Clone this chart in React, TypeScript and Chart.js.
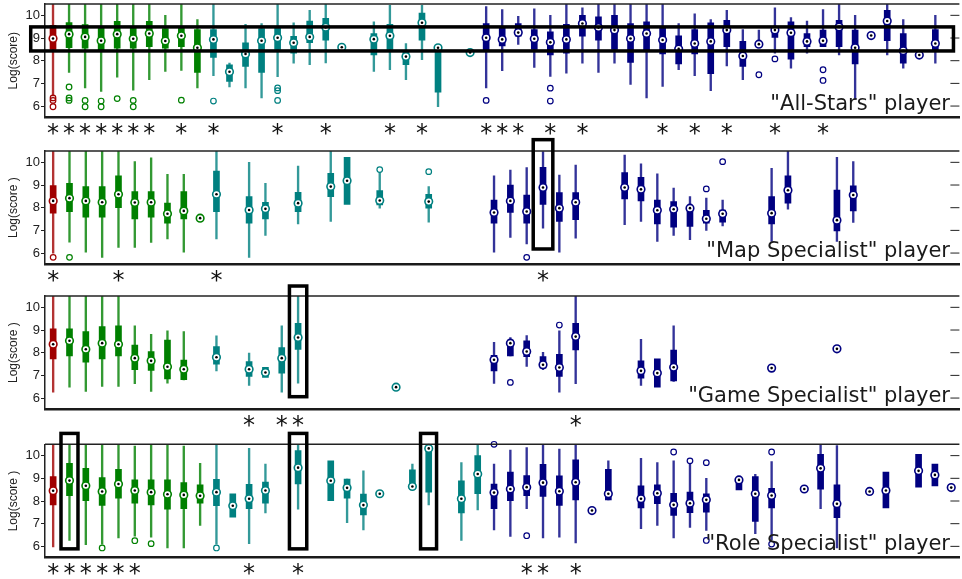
import React, { useEffect, useRef } from 'react';
import { Chart, registerables } from 'chart.js';

Chart.register(...registerables);

type Row = [number, number | null, number | null, number, number | null, number | null];
type Out = [number, number];
type Mark = [number, number, number, number];

// ---- shared ----
const yTickValues = [6, 7, 8, 9, 10];
const groupStarts = [0, 1, 10, 27];
const groupRGB = [
  [160, 0, 0],
  [0, 128, 0],
  [0, 128, 128],
  [0, 0, 128],
];

// ---- "All-Stars" panel: [slot, low whisker, q1, median, q3, high whisker] ----
const allStarsRows: Row[] = [
  [0, 6.45, 8.5, 8.98, 9.56, 10.7], [1, 7.48, 8.57, 9.17, 9.68, 10.7], [2, 6.8, 8.55, 9.05, 9.59, 10.7],
  [3, 6.65, 8.47, 8.88, 9.49, 10.7], [4, 7.27, 8.55, 9.17, 9.74, 10.7], [5, 6.7, 8.55, 8.97, 9.46, 10.7],
  [6, 7.16, 8.62, 9.2, 9.74, 10.7], [7, 7.53, 8.55, 8.87, 9.42, 10.0], [8, 7.57, 8.62, 9.1, 9.46, 10.7],
  [9, 6.8, 7.48, 8.57, 9.37, 9.81], [10, 7.34, 8.15, 8.94, 9.37, 10.7], [11, 6.84, 7.09, 7.51, 7.82, 7.9],
  [12, 6.8, 7.75, 8.3, 8.79, 9.6], [13, 6.36, 7.48, 8.88, 9.42, 9.64], [14, 7.3, 8.5, 9.01, 9.49, 10.7],
  [15, 7.89, 8.33, 8.79, 9.08, 9.67], [16, 7.82, 8.79, 9.05, 9.75, 10.22], [17, 7.9, 8.9, 9.47, 9.87, 10.7],
  [18, null, null, 8.59, null, null], [20, 7.53, 8.25, 8.95, 9.2, 9.71], [21, 7.6, 8.5, 9.1, 9.6, 10.44],
  [22, 7.16, 7.82, 8.18, 8.4, 8.76], [23, 8.04, 8.9, 9.67, 10.1, 10.44], [24, 5.97, 6.61, 8.57, 8.57, 8.65],
  [26, null, null, 8.36, null, null], [27, 6.8, 8.47, 9.01, 9.64, 10.39], [28, 7.56, 8.65, 8.94, 9.49, 10.25],
  [29, 8.72, 9.08, 9.24, 9.64, 9.96], [30, 7.7, 8.5, 8.97, 9.37, 10.29], [31, 7.31, 8.25, 8.81, 9.27, 10.0],
  [32, 7.45, 8.33, 8.94, 9.6, 10.48], [33, 7.89, 9.08, 9.64, 10.0, 10.33], [34, 7.48, 8.9, 9.46, 9.93, 10.7],
  [35, 7.89, 8.5, 9.35, 10.0, 10.7], [36, 6.95, 7.92, 8.98, 9.64, 10.7], [37, 6.36, 8.47, 9.2, 9.71, 10.7],
  [38, 6.87, 8.3, 8.91, 9.52, 10.7], [39, 7.6, 7.86, 8.52, 9.1, 9.64], [40, 7.34, 8.3, 8.76, 9.37, 10.07],
  [41, 6.68, 7.43, 8.85, 9.67, 9.81], [42, 7.77, 8.62, 9.35, 9.78, 10.22], [43, 7.16, 7.75, 8.21, 8.85, 9.37],
  [44, 8.62, 8.65, 8.73, 8.8, 9.35], [45, 8.33, 9.03, 9.35, 9.42, 10.33], [46, 7.67, 8.07, 9.23, 9.71, 9.9],
  [47, 8.33, 8.62, 8.85, 9.2, 9.75], [48, 8.62, 8.62, 8.88, 9.35, 10.25], [49, 8.25, 8.62, 9.49, 9.78, 10.7],
  [50, 6.29, 7.86, 8.57, 9.35, 10.0], [51, null, null, 9.11, null, null], [52, 8.25, 8.88, 9.75, 10.22, 10.7],
  [53, 7.67, 7.89, 8.44, 9.2, 9.81], [54, null, null, 8.25, null, null], [55, 7.89, 8.47, 8.76, 9.37, 10.0],
];
const allStarsOutliers: Out[] = [
  [0, 6.36], [0, 6.25], [0, 5.97], [1, 6.84], [1, 6.36], [1, 6.25], [2, 6.25], [2, 5.97], [3, 6.22], [3, 5.97],
  [4, 6.33], [5, 6.25], [5, 5.97], [8, 6.26], [10, 6.22], [14, 6.8], [14, 6.68], [14, 6.25], [27, 6.25],
  [31, 6.79], [31, 6.22], [44, 7.38], [45, 8.08], [48, 7.6], [48, 7.13],
];
const allStarsSignificant = [0, 1, 2, 3, 4, 5, 6, 8, 10, 14, 17, 21, 23, 27, 28, 29, 31, 33, 38, 40, 42, 45, 48];
const allStarsHighlights: Mark[] = [[-1.39, 56.13, 8.43, 9.49]];

// ---- "Map Specialist" panel ----
const mapRows: Row[] = [
  [0, 6.0, 7.76, 8.3, 8.97, 10.7], [1, 6.48, 7.83, 8.42, 9.08, 10.7], [2, 6.04, 7.58, 8.3, 8.93, 10.7],
  [3, 5.81, 7.58, 8.24, 8.93, 10.7], [4, 6.25, 8.0, 8.59, 9.41, 10.7], [5, 6.25, 7.51, 8.23, 8.71, 10.03],
  [6, 6.47, 7.58, 8.24, 8.71, 10.2], [7, 6.62, 7.32, 7.73, 8.2, 9.47], [8, 6.04, 7.51, 7.86, 8.71, 9.47],
  [9, null, null, 7.54, null, null], [10, 6.62, 7.83, 8.59, 9.62, 10.7], [12, 5.81, 7.32, 7.9, 8.49, 10.0],
  [13, 6.78, 7.51, 7.95, 8.24, 9.08], [15, 7.29, 7.83, 8.2, 8.68, 9.84], [17, 7.39, 8.49, 8.93, 9.52, 10.7],
  [18, null, 8.15, 9.19, 10.22, null], [20, 7.98, 8.12, 8.32, 8.75, 9.55], [23, 7.36, 7.98, 8.27, 8.59, 8.93],
  [27, 6.04, 7.32, 7.79, 8.34, 9.41], [28, 6.69, 7.79, 8.3, 9.0, 9.66], [29, 6.4, 7.32, 7.83, 8.56, 9.77],
  [30, 7.1, 8.15, 8.89, 9.78, 10.47], [31, 6.04, 7.39, 7.98, 8.67, 9.44], [32, 6.66, 7.47, 8.24, 8.67, 9.88],
  [35, 7.25, 8.39, 8.89, 9.55, 10.32], [36, 7.39, 8.3, 8.81, 9.34, 9.93], [37, 6.51, 7.29, 7.89, 8.34, 9.49],
  [38, 6.78, 7.14, 7.93, 8.27, 8.86], [39, 6.59, 7.17, 7.98, 8.05, 8.49], [40, 7.0, 7.32, 7.51, 7.88, 8.42],
  [41, 7.2, 7.36, 7.73, 7.9, 8.34], [44, 6.51, 7.29, 7.76, 8.49, 9.74], [45, 7.93, 8.2, 8.77, 9.41, 10.5],
  [48, 6.51, 6.98, 7.45, 8.78, 10.22], [49, 7.35, 7.86, 8.56, 8.96, 10.03],
];
const mapOutliers: Out[] = [[0, 5.81], [1, 5.81], [20, 9.68], [23, 9.59], [29, 5.81], [40, 8.83], [41, 10.03]];
const mapSignificant = [0, 4, 10, 30];
const mapHighlights: Mark[] = [[29.4, 30.6, 6.18, 11.0]];

// ---- "Game Specialist" panel ----
const gameRows: Row[] = [
  [0, 6.26, 7.73, 8.37, 9.05, 10.7], [1, 6.48, 7.86, 8.53, 9.05, 10.7], [2, 6.29, 7.58, 8.15, 8.93, 10.7],
  [3, 6.51, 7.73, 8.42, 9.15, 10.7], [4, 6.51, 7.86, 8.37, 9.18, 10.7], [5, 6.63, 7.25, 7.76, 8.34, 9.19],
  [6, 6.29, 7.22, 7.64, 8.05, 8.81], [7, 6.66, 6.84, 7.38, 8.56, 8.96], [8, 6.8, 6.81, 7.27, 7.68, 8.93],
  [10, 7.2, 7.49, 7.8, 8.27, 8.74], [12, 6.56, 6.95, 7.27, 7.61, 7.98], [13, null, 6.91, 7.13, 7.35, null],
  [14, 6.26, 7.1, 7.76, 8.23, 9.19], [15, 6.66, 8.15, 8.67, 9.3, 10.7], [21, null, null, 6.48, null, null],
  [27, 6.64, 7.2, 7.69, 7.88, 8.46], [28, null, 7.86, 8.42, 8.56, 8.67], [29, 7.39, 7.83, 8.05, 8.52, 8.75],
  [30, 7.25, 7.32, 7.47, 7.83, 8.02], [31, 6.26, 6.95, 7.35, 7.93, 8.96], [32, 6.63, 8.12, 8.71, 9.3, 10.7],
  [36, 6.56, 6.88, 7.2, 7.64, 8.59], [37, null, 6.48, 7.1, 7.73, null], [38, 6.73, 6.76, 7.36, 8.12, 9.19],
  [44, null, null, 7.32, null, null], [48, null, null, 8.17, null, null],
];
const gameOutliers: Out[] = [[28, 6.69], [31, 9.22]];
const gameSignificant = [12, 14, 15, 32];
const gameHighlights: Mark[] = [[14.47, 15.53, 6.06, 10.94]];

// ---- "Role Specialist" panel ----
const roleRows: Row[] = [
  [0, 5.97, 7.83, 8.45, 9.08, 10.7], [1, 6.26, 8.23, 8.9, 9.66, 10.7], [2, 6.07, 8.02, 8.67, 9.44, 10.7],
  [3, 6.1, 7.8, 8.42, 9.03, 10.7], [4, 6.37, 8.12, 8.75, 9.4, 10.7], [5, 6.45, 7.9, 8.46, 8.93, 10.42],
  [6, 6.4, 7.83, 8.39, 8.93, 10.7], [7, 5.93, 7.64, 8.3, 8.93, 10.7], [8, 5.93, 7.66, 8.27, 8.81, 10.42],
  [9, 6.92, 7.9, 8.23, 8.71, 9.66], [10, 6.1, 7.79, 8.39, 8.96, 10.7], [11, null, 7.29, 7.79, 8.32, null],
  [12, 6.12, 7.66, 8.1, 8.74, 10.32], [13, 7.47, 7.9, 8.46, 8.83, 9.63], [15, 7.64, 8.75, 9.47, 10.22, 10.7],
  [17, null, 8.02, 8.89, 9.77, null], [18, 7.05, 8.12, 8.58, 8.97, null], [19, 6.73, 7.39, 7.82, 8.3, 9.33],
  [20, null, null, 8.32, null, null], [22, null, 8.61, 8.64, 9.37, 9.63], [23, 7.83, 8.39, 10.32, 10.32, null],
  [25, 6.26, 7.47, 8.1, 8.89, 9.69], [26, 7.61, 8.32, 9.19, 10.0, 10.7], [27, 6.73, 7.66, 8.37, 8.75, 9.63],
  [28, 6.44, 8.02, 8.53, 9.27, 10.25], [29, 7.66, 8.24, 8.61, 9.12, 10.35], [30, 6.37, 8.2, 8.81, 9.62, 10.7],
  [31, 6.41, 7.8, 8.43, 9.11, 10.29], [32, 6.15, 8.05, 8.83, 9.81, 10.7], [33, null, null, 7.58, null, null],
  [34, null, 8.05, 8.32, 9.4, 9.77], [36, 6.78, 7.69, 8.1, 8.67, 9.88], [37, 6.92, 7.88, 8.34, 8.71, 9.69],
  [38, 6.37, 7.36, 7.83, 8.34, 9.77], [39, 6.84, 7.49, 7.9, 8.39, 9.66], [40, 6.7, 7.51, 8.05, 8.32, 9.0],
  [42, null, 8.49, 8.93, 8.93, null], [43, 6.56, 7.1, 8.32, 9.08, 9.18], [44, 6.3, 7.69, 8.24, 8.56, 9.74],
  [46, null, null, 8.53, null, null], [47, 7.66, 8.52, 9.44, 10.06, 10.7], [48, 5.93, 7.27, 7.88, 8.71, 10.44],
  [50, null, null, 8.42, null, null], [51, null, 7.69, 8.46, 9.27, null], [53, null, 8.61, 9.33, 10.06, null],
  [54, null, 8.67, 9.15, 9.63, null], [55, null, null, 8.59, null, null],
];
const roleOutliers: Out[] = [
  [3, 5.93], [5, 6.25], [6, 6.12], [10, 5.93], [27, 10.5], [29, 6.47], [38, 10.16], [39, 9.77],
  [40, 9.69], [40, 6.26], [44, 10.16], [44, 6.1],
];
const roleSignificant = [0, 1, 2, 3, 4, 5, 12, 15, 29, 30, 32];
const roleHighlights: Mark[] = [
  [0.48, 1.52, 5.89, 10.98],
  [14.47, 15.53, 5.89, 10.98],
  [22.5, 23.48, 5.89, 10.98],
];

const panelLabels = ['"All-Stars" player', '"Map Specialist" player', '"Game Specialist" player', '"Role Specialist" player'];
const yTitles = ['Log(score)', 'Log(score )', 'Log(score )', 'Log(score )'];

type PanelCfg = {
  top: number; padTop: number; nSlots: number; rows: Row[]; outliers: Out[];
  sig: number[]; marks: Mark[]; label: string; yTitle: string;
};

const CANVAS_W = 965;
const CANVAS_H = 154;
const AREA_H = 113.4;

const panels: PanelCfg[] = [
  { top: -10, padTop: 14, nSlots: 57, rows: allStarsRows, outliers: allStarsOutliers, sig: allStarsSignificant, marks: allStarsHighlights, label: panelLabels[0], yTitle: yTitles[0] },
  { top: 137, padTop: 14, nSlots: 56, rows: mapRows, outliers: mapOutliers, sig: mapSignificant, marks: mapHighlights, label: panelLabels[1], yTitle: yTitles[1] },
  { top: 282, padTop: 14, nSlots: 56, rows: gameRows, outliers: gameOutliers, sig: gameSignificant, marks: gameHighlights, label: panelLabels[2], yTitle: yTitles[2] },
  { top: 430, padTop: 14.3, nSlots: 56, rows: roleRows, outliers: roleOutliers, sig: roleSignificant, marks: roleHighlights, label: panelLabels[3], yTitle: yTitles[3] },
];

function slotColor(i: number, alpha = 1): string {
  let g = 0;
  groupStarts.forEach((s, k) => { if (i >= s) g = k; });
  const [r, gg, b] = groupRGB[g];
  return `rgba(${r},${gg},${b},${alpha})`;
}

const framePlugin = {
  id: 'frame',
  afterDraw(chart: any, _args: any, opts: any) {
    const { ctx, chartArea: a, scales } = chart;
    const x = scales.x;
    const y = scales.y;
    ctx.save();
    ctx.strokeStyle = '#222';
    ctx.lineWidth = 1.5;
    ctx.beginPath();
    ctx.moveTo(a.left, a.top);
    ctx.lineTo(a.right, a.top);
    ctx.stroke();
    ctx.lineWidth = 1;
    yTickValues.forEach((v) => {
      const py = y.getPixelForValue(v);
      ctx.beginPath();
      ctx.moveTo(a.right - 9, py);
      ctx.lineTo(a.right, py);
      ctx.stroke();
    });
    ctx.font = '21px "DejaVu Sans"';
    ctx.fillStyle = '#1a1a1a';
    ctx.textAlign = 'right';
    ctx.textBaseline = 'alphabetic';
    ctx.fillText(opts.label, 950, a.bottom - 7.5);
    ctx.strokeStyle = '#000';
    ctx.lineWidth = 3.5;
    (opts.marks as Mark[]).forEach(([x0, x1, y0, y1]) => {
      const px0 = x.getPixelForValue(x0);
      const px1 = x.getPixelForValue(x1);
      const py0 = y.getPixelForValue(y0);
      const py1 = y.getPixelForValue(y1);
      ctx.strokeRect(px0, py1, px1 - px0, py0 - py1);
    });
    ctx.restore();
  },
};

function Panel({ cfg }: { cfg: PanelCfg }) {
  const ref = useRef<HTMLCanvasElement>(null);
  useEffect(() => {
    const canvas = ref.current;
    if (!canvas) return;
    const n = cfg.nSlots;
    const labels = Array.from({ length: n }, (_, i) => String(i));
    const whiskers: any[] = Array(n).fill(null);
    const boxes: any[] = Array(n).fill(null);
    const medians: any[] = Array(n).fill(null);
    cfg.rows.forEach(([s, lo, q1, m, q3, hi]) => {
      medians[s] = m;
      if (q1 != null && q3 != null) boxes[s] = [q1, q3];
      const a = lo ?? q1;
      const b = hi ?? q3;
      if ((lo != null || hi != null) && a != null && b != null) whiskers[s] = [a, b];
    });
    const outPts = cfg.outliers.map(([s, v]) => ({ x: String(s), y: v }));
    const sigSet = new Set(cfg.sig);
    const xAxisH = CANVAS_H - cfg.padTop - AREA_H;

    const chart = new Chart(canvas, {
      type: 'bar',
      data: {
        labels,
        datasets: [
          {
            type: 'bar', data: whiskers as any, grouped: false, barThickness: 1.7, borderWidth: 0,
            backgroundColor: (c: any) => slotColor(c.dataIndex, 0.8), order: 5, clip: 0,
          } as any,
          {
            type: 'bar', data: boxes as any, grouped: false, barThickness: 6, borderWidth: 0,
            backgroundColor: (c: any) => slotColor(c.dataIndex), order: 4, clip: 0,
          } as any,
          {
            type: 'line', data: medians, showLine: false, pointRadius: 3.8, pointBorderWidth: 1.6,
            pointBackgroundColor: '#ffffff', pointBorderColor: (c: any) => slotColor(c.dataIndex),
            order: 3, clip: false,
          } as any,
          {
            type: 'line', data: medians, showLine: false, pointRadius: 1.3, pointBorderWidth: 0,
            pointBackgroundColor: '#000000', pointBorderColor: '#000000', order: 2, clip: false,
          } as any,
          {
            type: 'line', data: outPts as any, showLine: false, pointRadius: 2.8, pointBorderWidth: 1.2,
            pointBackgroundColor: 'rgba(255,255,255,0)',
            pointBorderColor: (c: any) => slotColor(parseInt(c.raw ? c.raw.x : '0', 10)),
            order: 1, clip: false,
          } as any,
        ],
      },
      options: {
        responsive: false,
        animation: false,
        events: [],
        layout: { padding: { top: cfg.padTop, left: 0, right: 0, bottom: 0 } },
        plugins: {
          legend: { display: false },
          tooltip: { enabled: false },
          frame: { label: cfg.label, marks: cfg.marks },
        } as any,
        scales: {
          x: {
            type: 'category',
            offset: true,
            afterFit: (s: any) => { s.height = xAxisH; },
            grid: { display: false, drawTicks: false },
            border: { display: true, color: '#1a1a1a', width: 2.5 },
            ticks: {
              autoSkip: false, maxRotation: 0, minRotation: 0, padding: 3,
              font: { family: '"DejaVu Sans"', size: 24 }, color: '#111',
              callback: (_v: any, i: number) => (sigSet.has(i) ? '*' : ''),
            },
          },
          y: {
            type: 'linear',
            min: 5.5,
            max: 10.5,
            afterBuildTicks: (s: any) => { s.ticks = yTickValues.map((v) => ({ value: v })); },
            afterFit: (s: any) => { s.width = 45; },
            ticks: { font: { family: '"Liberation Sans"', size: 13 }, color: '#222', padding: 1 },
            grid: { drawOnChartArea: false, drawTicks: true, tickLength: 4, color: '#222' },
            border: { display: true, color: '#222', width: 1.5 },
            title: {
              display: true, text: cfg.yTitle, color: '#222',
              font: { family: '"Liberation Sans"', size: 12 }, padding: { top: 6, bottom: 0 },
            },
          },
        },
      } as any,
      plugins: [framePlugin as any],
    });
    return () => chart.destroy();
  }, [cfg]);
  return (
    <canvas
      ref={ref}
      width={CANVAS_W}
      height={CANVAS_H}
      style={{ position: 'absolute', left: 0, top: cfg.top, width: CANVAS_W, height: CANVAS_H }}
    />
  );
}

export default function App() {
  return (
    <div style={{ position: 'fixed', left: 0, top: 0, width: 962, height: 579, overflow: 'hidden', background: '#ffffff' }}>
      {panels.map((p, i) => (
        <Panel key={i} cfg={p} />
      ))}
    </div>
  );
}
